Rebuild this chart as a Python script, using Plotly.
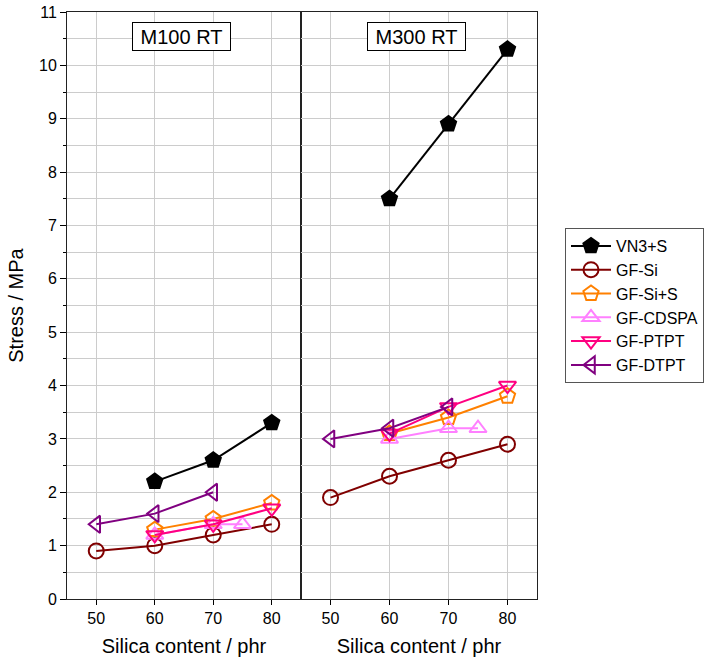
import plotly.graph_objects as go
from plotly.subplots import make_subplots

series = ["VN3+S", "GF-Si", "GF-Si+S", "GF-CDSPA", "GF-PTPT", "GF-DTPT"]
colors = ["#000000", "#800000", "#FF8000", "#FF80FF", "#FF0080", "#800080"]
symbols = ["pentagon", "circle-open", "pentagon-open", "triangle-up-open", "triangle-down-open", "triangle-left-open"]

# M100 RT
m100_x = {
    "VN3+S": [60, 70, 80],
    "GF-Si": [50, 60, 70, 80],
    "GF-Si+S": [60, 70, 80],
    "GF-CDSPA": [60, 70, 75],
    "GF-PTPT": [60, 70, 80],
    "GF-DTPT": [50, 60, 70],
}
m100_y = {
    "VN3+S": [2.2, 2.6, 3.3],
    "GF-Si": [0.9, 1.0, 1.2, 1.4],
    "GF-Si+S": [1.3, 1.5, 1.8],
    "GF-CDSPA": [1.2, 1.4, 1.4],
    "GF-PTPT": [1.2, 1.4, 1.7],
    "GF-DTPT": [1.4, 1.6, 2.0],
}
# M300 RT
m300_x = {
    "VN3+S": [60, 70, 80],
    "GF-Si": [50, 60, 70, 80],
    "GF-Si+S": [60, 70, 80],
    "GF-CDSPA": [60, 70, 75],
    "GF-PTPT": [60, 70, 80],
    "GF-DTPT": [50, 60, 70],
}
m300_y = {
    "VN3+S": [7.5, 8.9, 10.3],
    "GF-Si": [1.9, 2.3, 2.6, 2.9],
    "GF-Si+S": [3.1, 3.4, 3.8],
    "GF-CDSPA": [3.0, 3.2, 3.2],
    "GF-PTPT": [3.1, 3.6, 4.0],
    "GF-DTPT": [3.0, 3.2, 3.6],
}
panel_titles = ["M100 RT", "M300 RT"]
x_ticks = [50, 60, 70, 80]
y_ticks = list(range(0, 12))

fig = make_subplots(rows=1, cols=2, shared_yaxes=True, horizontal_spacing=0)

for col, (xd, yd) in enumerate([(m100_x, m100_y), (m300_x, m300_y)], start=1):
    for name, c, s in zip(series, colors, symbols):
        fig.add_trace(go.Scatter(
            x=xd[name], y=yd[name], mode="lines+markers", name=name,
            legendgroup=name, showlegend=(col == 1),
            line=dict(color=c, width=2),
            marker=dict(symbol=s, size=16 if "pentagon" in s else 15, color=c,
                        line=dict(color=c, width=2)),
        ), row=1, col=col)

fig.update_layout(
    width=716, height=659,
    margin=dict(l=67, r=179, t=12, b=60, autoexpand=False),
    paper_bgcolor="white", plot_bgcolor="white",
    font=dict(family="Liberation Sans, Arial, sans-serif", size=16, color="#000000"),
    legend=dict(xref="container", yref="container", x=565 / 716, y=1 - 228 / 659,
                xanchor="left", yanchor="top",
                bordercolor="#555555", borderwidth=1, bgcolor="white",
                font=dict(size=16), tracegroupgap=0, itemwidth=40),
)

fig.update_xaxes(range=[45, 85], tickvals=x_ticks, showgrid=True, gridcolor="#CCCCCC", gridwidth=1,
                 showline=True, linecolor="#222222", linewidth=1, mirror=True,
                 ticks="outside", ticklen=5, tickcolor="black", automargin=False,
                 tickfont=dict(size=16), zeroline=False,
                 title=dict(text="Silica content / phr", font=dict(size=20), standoff=12))
fig.update_xaxes(domain=[0, 234 / 470], row=1, col=1)
fig.update_xaxes(domain=[234 / 470, 1], row=1, col=2)
fig.update_yaxes(range=[0, 11], tickvals=y_ticks, showgrid=True, gridcolor="#CCCCCC", gridwidth=1,
                 showline=True, linecolor="#222222", linewidth=1, mirror=True, zeroline=False,
                 automargin=False,
                 minor=dict(dtick=0.5, showgrid=True, gridcolor="#CCCCCC", ticks="outside", ticklen=3, tickcolor="black"))
fig.update_yaxes(ticks="outside", ticklen=6, tickcolor="black", tickfont=dict(size=16),
                 title=dict(text="Stress / MPa", font=dict(size=20), standoff=10), row=1, col=1)
fig.update_yaxes(ticks="", minor=dict(ticks=""), row=1, col=2)

for i, t in enumerate(panel_titles):
    fig.add_annotation(text=t, xref=f"x{'' if i == 0 else 2} domain", yref="paper",
                       x=0.49, y=(599 - 36) / 587, xanchor="center", yanchor="middle", showarrow=False,
                       font=dict(size=20), bordercolor="black", borderwidth=1, borderpad=1,
                       width=95, height=25, bgcolor="white")

fig.write_html("out.html")
